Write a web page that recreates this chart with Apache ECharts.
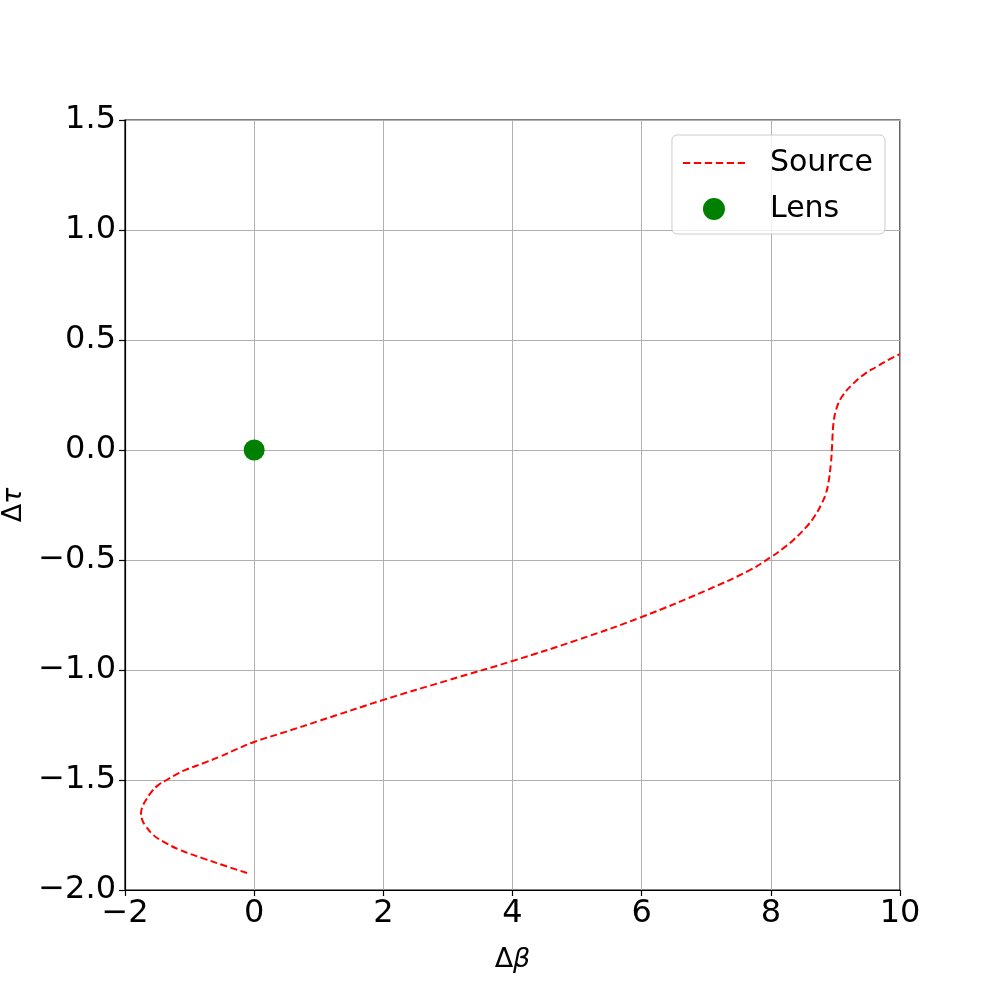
<!DOCTYPE html>
<html>
<head>
<meta charset="utf-8">
<script src="https://cdn.jsdelivr.net/npm/echarts@6/dist/echarts.min.js"></script>
<style>html,body{margin:0;padding:0;background:#fff;}#c{width:1000px;height:1000px;}</style>
</head>
<body>
<div id="c"></div>
<script>
const sourceBeta = [-0.11, -0.45, -0.79, -1.148, -1.407, -1.562, -1.69, -1.735, -1.752, -1.735, -1.69, -1.587, -1.48, -1.355, -1.22, -1.071, -0.80, -0.53, -0.27, 0.0, 0.5, 1.0, 2.0, 3.0, 4.0, 5.0, 6.0, 7.0, 7.68, 8.0, 8.2, 8.35, 8.555, 8.68, 8.79, 8.85, 8.89, 8.93, 8.945, 8.955, 8.97, 9.01, 9.10, 9.28, 9.45, 9.64, 9.82, 10.0];
const sourceTau  = [-1.923, -1.89, -1.856, -1.818, -1.78, -1.75, -1.705, -1.68, -1.651, -1.625, -1.598, -1.553, -1.522, -1.5, -1.477, -1.455, -1.425, -1.394, -1.36, -1.327, -1.28, -1.232, -1.136, -1.047, -0.959, -0.864, -0.759, -0.638, -0.545, -0.487, -0.445, -0.409, -0.348, -0.30, -0.242, -0.20, -0.152, -0.06, 0.0, 0.06, 0.121, 0.182, 0.242, 0.303, 0.345, 0.379, 0.41, 0.436];
const lensBeta = [0];
const lensTau = [0];
const xTicks = {min: -2, max: 10, step: 2};
const yTicks = {min: -2, max: 1.5, step: 0.5};

const fam = 'DejaVu Sans';
const chart = echarts.init(document.getElementById('c'), null, {renderer: 'canvas'});
const minus = s => String(s).replace('-', '\u2212');
const dashIcon = 'path://M0,0h7v2h-7zM10.5,0h7v2h-7zM21,0h7v2h-7zM31.5,0h7v2h-7zM42,0h7v2h-7zM52.5,0h7v2h-7z';
chart.setOption({
  animation: false,
  backgroundColor: '#fff',
  textStyle: {fontFamily: fam},
  grid: {left: 125, right: 100, top: 120, bottom: 110, containLabel: false, outerBoundsMode: 'none', show: true, borderColor: '#000', borderWidth: 1.2, backgroundColor: 'transparent'},
  legend: {
    orient: 'vertical', right: 115, top: 135,
    data: [{name: 'Source', icon: dashIcon, itemStyle: {color: '#ff0000'}}, {name: 'Lens', icon: 'circle'}],
    itemWidth: 62, itemHeight: 22, itemGap: 16,
    padding: [13, 12, 10, 11],
    backgroundColor: 'rgba(255,255,255,0.8)',
    borderColor: '#cccccc', borderWidth: 1, borderRadius: 5,
    textStyle: {fontFamily: fam, fontSize: 30, color: '#000', padding: [0, 0, 0, 20]}
  },
  xAxis: {
    type: 'value', min: xTicks.min, max: xTicks.max, interval: xTicks.step,
    name: '{a|Δ}{b|β}', nameLocation: 'middle', nameGap: 56,
    nameTextStyle: {rich: {a: {fontFamily: fam, fontSize: 27, color: '#000'}, b: {fontFamily: fam, fontSize: 27, fontStyle: 'italic', color: '#000'}}},
    axisLine: {show: true, onZero: false, lineStyle: {color: '#000', width: 1.2}},
    axisTick: {show: true, length: 6, inside: false, lineStyle: {color: '#000', width: 1.2}},
    axisLabel: {fontFamily: fam, fontSize: 32, color: '#000', margin: 8, formatter: v => minus(v)},
    splitLine: {show: true, lineStyle: {color: '#b0b0b0', width: 1}}
  },
  yAxis: {
    type: 'value', min: yTicks.min, max: yTicks.max, interval: yTicks.step,
    name: '{a|Δ}{b|τ}', nameLocation: 'middle', nameGap: 92, nameRotate: 90,
    nameTextStyle: {rich: {a: {fontFamily: fam, fontSize: 27, color: '#000'}, b: {fontFamily: fam, fontSize: 27, fontStyle: 'italic', color: '#000'}}},
    axisLine: {show: true, onZero: false, lineStyle: {color: '#000', width: 1.2}},
    axisTick: {show: true, length: 6, inside: false, lineStyle: {color: '#000', width: 1.2}},
    axisLabel: {fontFamily: fam, fontSize: 32, color: '#000', margin: 9, formatter: v => minus(v.toFixed(1))},
    splitLine: {show: true, lineStyle: {color: '#b0b0b0', width: 1}}
  },
  series: [
    {
      name: 'Source', type: 'line',
      data: sourceBeta.map((b, i) => [b, sourceTau[i]]),
      showSymbol: false, symbol: 'none', smooth: 0.45,
      lineStyle: {color: '#ff0000', width: 2, type: [7, 3.5]},
      itemStyle: {color: '#ff0000'},
      z: 3
    },
    {
      name: 'Lens', type: 'scatter',
      data: lensBeta.map((b, i) => [b, lensTau[i]]),
      symbol: 'circle', symbolSize: 21,
      itemStyle: {color: '#008000', opacity: 1},
      z: 4
    }
  ]
});
</script>
</body>
</html>
